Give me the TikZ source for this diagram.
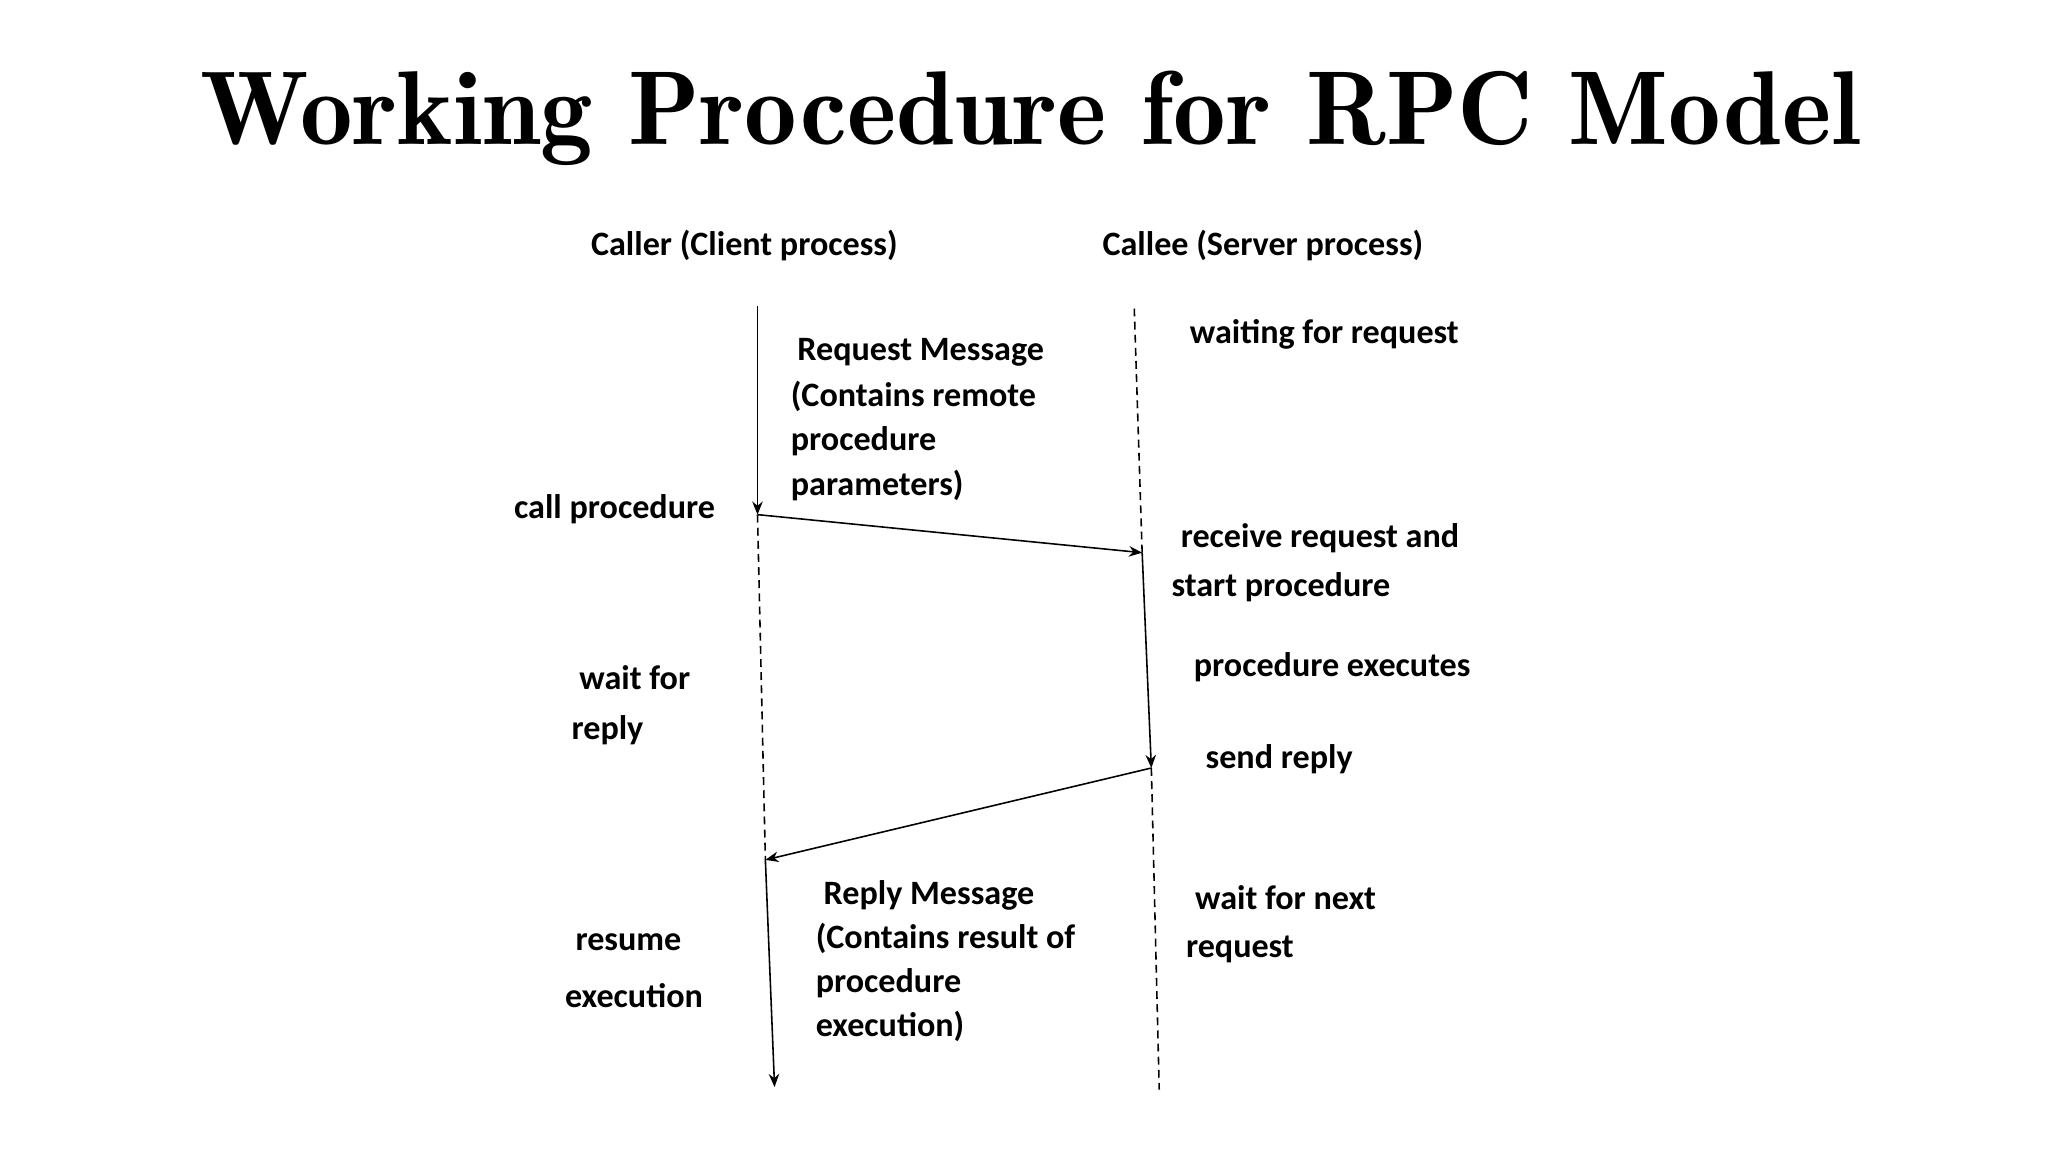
\documentclass[tikz,border=0pt]{standalone}
\usepackage{fontspec}
\setmainfont{Carlito}
\usetikzlibrary{arrows.meta}
\begin{document}
\begin{tikzpicture}[x=0.5pt,y=-0.5pt]
\tikzset{lbl/.style = {anchor=west,inner sep=0pt,font=\fontsize{13}{15}\selectfont\bfseries},
  dashline/.style = {line width=0.6pt,dash pattern=on 3pt off 2pt},
  msg/.style = {line width=0.6pt,-{Stealth[length=5pt,width=4pt]}}}
\useasboundingbox (0,0) rectangle (1560,878);

\node[inner sep=0pt,font=\fontfamily{lmr}\selectfont\fontsize{40}{44}\selectfont\bfseries\scshape] (title) at (785,90) {Working Procedure for RPC Model};

\node[lbl,anchor=center] (caller) at (567,187) {Caller (Client process)};
\node[lbl,anchor=center] (callee) at (962,187) {Callee (Server process)};

% lifelines
\coordinate (c0) at (577,233);
\coordinate (c1) at (577,392);
\coordinate (c2) at (583,655);
\coordinate (c3) at (590,828);
\coordinate (s0) at (864,235);
\coordinate (s1) at (870,421);
\coordinate (s2) at (877,585);
\coordinate (s3) at (883,830);

\draw[msg] (c0) -- (c1);
\draw[dashline] (c1) -- (c2);
\draw[msg] (c2) -- (c3);
\draw[dashline] (s0) -- (s1);
\draw[msg] (s1) -- (s2);
\draw[dashline] (s2) -- (s3);

\draw[msg] (c1) -- (s1);
\draw[msg] (s2) -- (c2);

% labels
\node[lbl] (wait) at (906,255) {waiting for request};
\node[lbl] (req1) at (607,268) {Request Message};
\node[lbl] (req2) at (602,302) {(Contains remote};
\node[lbl] (req3) at (602,336) {procedure};
\node[lbl] (req4) at (602,370) {parameters)};
\node[lbl,anchor=east] (call) at (545,388) {call procedure};
\node[lbl] (recv1) at (899,410) {receive request and};
\node[lbl] (recv2) at (892,447) {start procedure};
\node[lbl] (exec) at (909,508) {procedure executes};
\node[lbl] (wf1) at (441,516) {wait for};
\node[lbl] (wf2) at (435,556) {reply};
\node[lbl] (send) at (918,578) {send reply};
\node[lbl] (rep1) at (627,682) {Reply Message};
\node[lbl] (rep2) at (621,715) {(Contains result of};
\node[lbl] (rep3) at (621,749) {procedure};
\node[lbl] (rep4) at (621,782) {execution)};
\node[lbl] (next1) at (910,684) {wait for next};
\node[lbl] (next2) at (903,723) {request};
\node[lbl] (res1) at (438,718) {resume};
\node[lbl] (res2) at (430,758) {execution};
\end{tikzpicture}
\end{document}
